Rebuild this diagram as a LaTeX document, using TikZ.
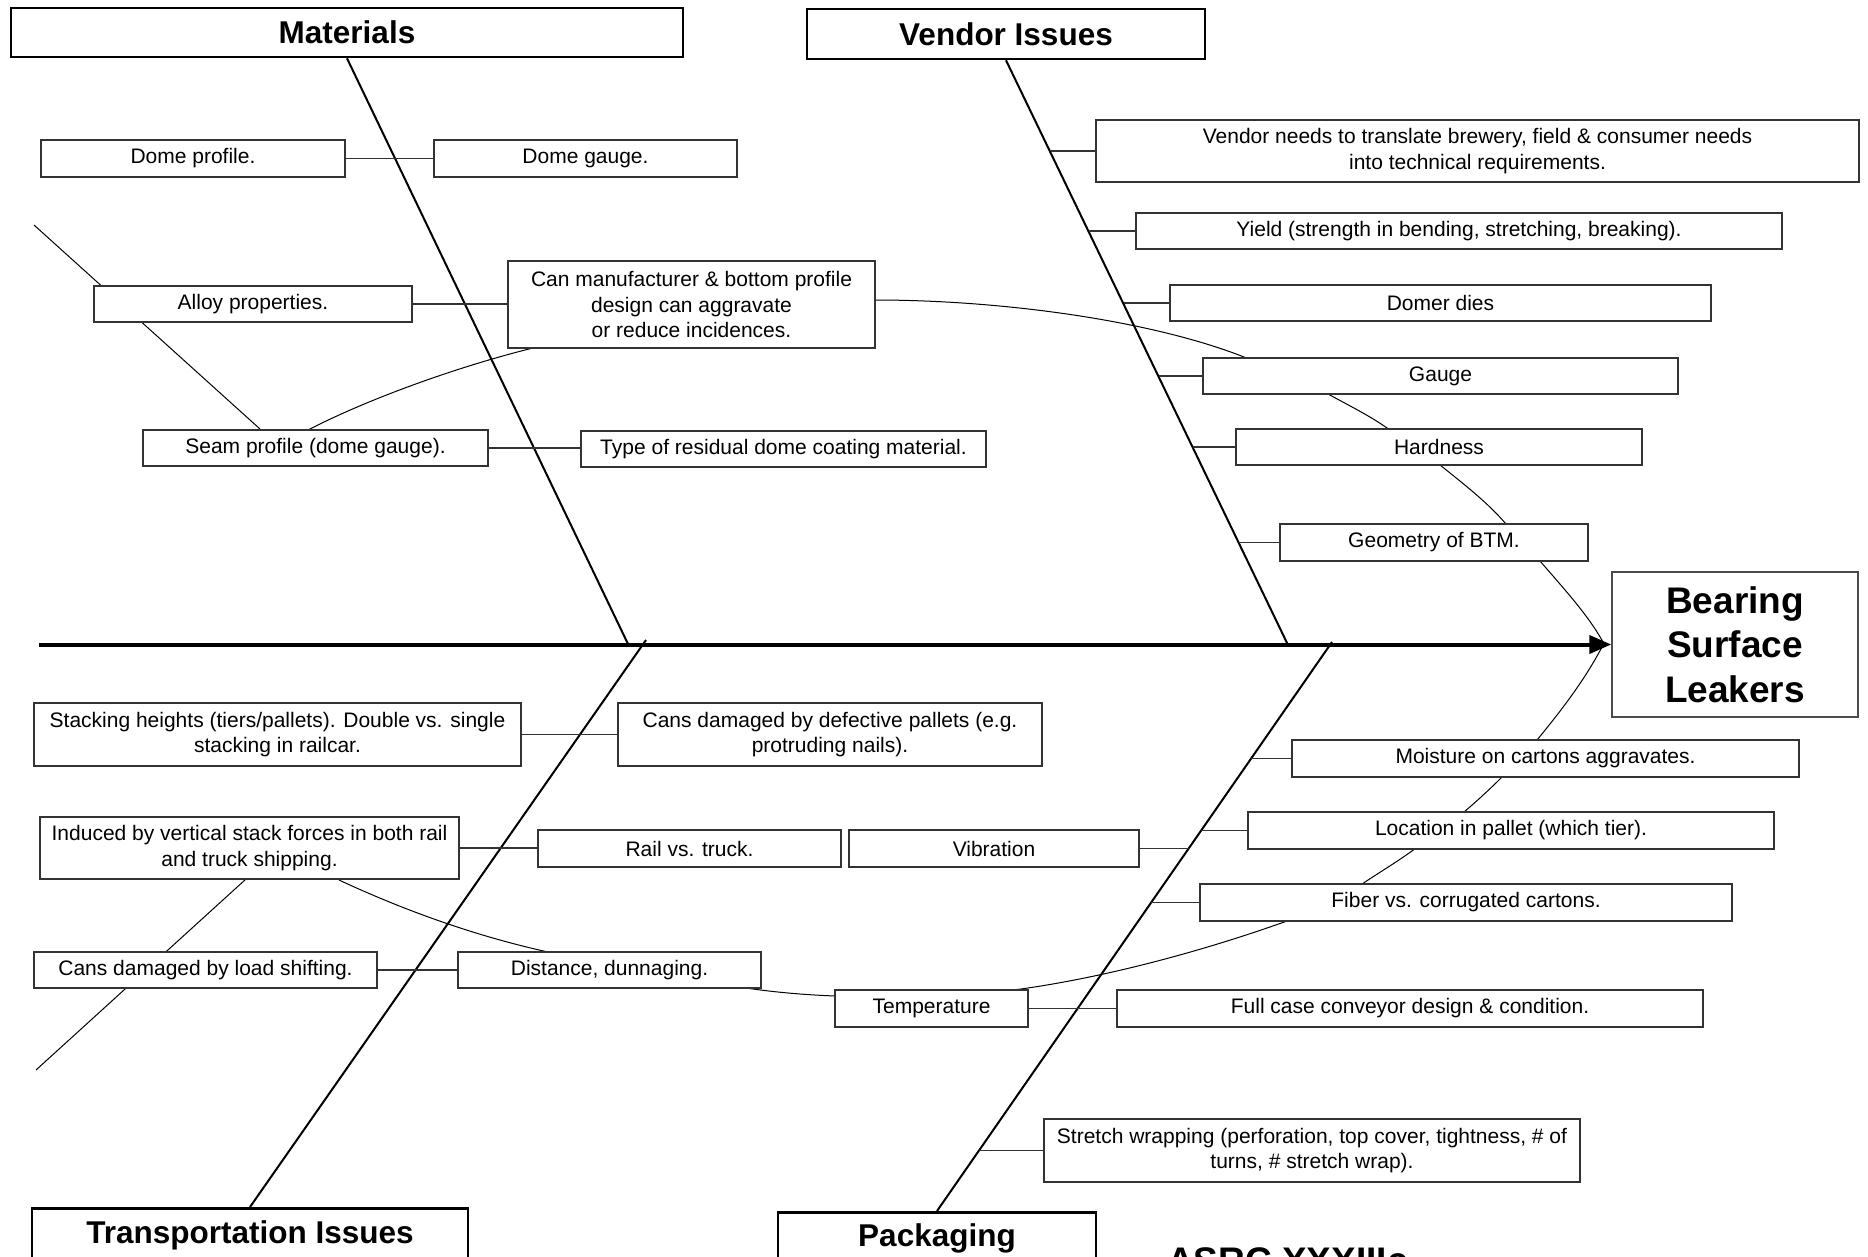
\documentclass[tikz,border=0pt]{standalone}
\usepackage{fontspec}
\setmainfont{Liberation Sans}
\usetikzlibrary{arrows.meta,backgrounds,calc}
\begin{document}
\begin{tikzpicture}[x=1pt,y=-1pt,
  box/.style={draw=black!80, line width=1.3pt, fill=white, align=center, inner sep=0pt, font=\fontsize{21}{25.5}\selectfont},
  head/.style={draw=black, line width=2.6pt, fill=white, align=center, inner sep=0pt, font=\fontsize{31.5}{38}\selectfont\bfseries},
  conn/.style={draw=black!80, line width=1.3pt},
  bone/.style={draw=black, line width=2pt},
  link/.style={draw=black, line width=1pt}]
\useasboundingbox (0,0) rectangle (1868,1256);
\clip (0,0) rectangle (1868,1256);

% ---------- background: white page, cause curves ----------
\begin{pgfonlayer}{background}
\fill[white] (0,0) rectangle (1868,1256);
% upper curve (pieces between boxes)
\draw[link] (308,430) .. controls (370,398) and (460,366) .. (533,348);
\draw[link] (533,348) .. controls (640,322) and (760,300) .. (875,300);
\draw[link] (875,300) .. controls (1000,300) and (1150,320) .. (1244,357);
\draw[link] (1244,357) .. controls (1280,372) and (1310,384) .. (1328,394);
\draw[link] (1328,394) .. controls (1350,406) and (1370,416) .. (1387,428);
\draw[link] (1387,428) .. controls (1405,440) and (1422,452) .. (1440,465);
\draw[link] (1440,465) .. controls (1465,485) and (1488,503) .. (1506,524);
\draw[link] (1506,524) .. controls (1518,536) and (1530,548) .. (1540,561);
\draw[link] (1540,561) .. controls (1565,590) and (1588,615) .. (1603,642);
% lower curve (pieces between boxes)
\draw[link] (339,880) .. controls (410,913) and (480,937) .. (548,952);
\draw[link] (548,952) .. controls (620,968) and (690,980) .. (746,988);
\draw[link] (746,988) .. controls (780,993) and (810,995) .. (835,996);
\draw[link] (835,996) .. controls (900,999) and (960,996) .. (1021,989);
\draw[link] (1021,989) .. controls (1120,975) and (1220,945) .. (1287,921);
\draw[link] (1287,921) .. controls (1315,910) and (1340,898) .. (1362,884);
\draw[link] (1362,884) .. controls (1380,872) and (1400,860) .. (1416,848);
\draw[link] (1416,848) .. controls (1434,836) and (1450,824) .. (1464,812);
\draw[link] (1464,812) .. controls (1478,800) and (1490,789) .. (1502,777);
\draw[link] (1502,777) .. controls (1515,765) and (1527,752) .. (1537,740);
\draw[link] (1537,740) .. controls (1560,712) and (1585,680) .. (1603,645);
\coordinate (la) at (34,225); \coordinate (lb) at (260,429);
\coordinate (lc) at (36,1070); \coordinate (ld) at (246,879);
\draw[link] (la) -- (lb);
\draw[link] (lc) -- (ld);
\end{pgfonlayer}

% ---------- heads ----------
\node[head, minimum width=672pt, minimum height=49pt] (mat) at (347,32.5) {Materials};
\node[head, minimum width=398pt, minimum height=50pt] (ven) at (1006,34) {Vendor Issues};
\node[head, anchor=north, minimum width=436pt, text height=23pt, text depth=60pt, inner ysep=12pt] (tra) at (250,1207) {Transportation Issues};
\node[head, anchor=north, minimum width=318pt, text height=23pt, text depth=60pt, inner ysep=11pt] (pkg) at (937,1211) {Packaging};
\node[draw=black!70, line width=1.5pt, fill=white, minimum width=246pt, minimum height=145pt, align=center, inner sep=0pt, font=\fontsize{37}{44.6}\selectfont\bfseries] (bsl) at (1735,644.5) {Bearing\\Surface\\Leakers};
\node[anchor=base west, inner sep=0pt, font=\fontsize{37}{44}\selectfont\bfseries] (asrc) at (1167,1273) {ASRC XXXIIIc};

% ---------- materials ----------
\node[box, minimum width=304pt, minimum height=37pt] (dp) at (193,158.5) {Dome profile.};
\node[box, minimum width=303pt, minimum height=37pt] (dg) at (585.5,158.5) {Dome gauge.};
\node[box, minimum width=318pt, minimum height=36pt] (al) at (253,304) {Alloy properties.};
\node[box, minimum width=367pt, minimum height=87pt] (can) at (691.5,304.5) {Can manufacturer \& bottom profile\\design can aggravate\\or reduce incidences.};
\node[box, minimum width=345pt, minimum height=36pt] (sp) at (315.5,448) {Seam profile (dome gauge).};
\node[box, minimum width=405pt, minimum height=36pt] (ty) at (783.5,449) {Type of residual dome coating material.};

% ---------- vendor ----------
\node[box, minimum width=763pt, minimum height=62pt] (vn) at (1477.5,151) {Vendor needs to translate brewery, field \& consumer needs\\into technical requirements.};
\node[box, minimum width=646pt, minimum height=36pt] (yi) at (1459,231) {Yield (strength in bending, stretching, breaking).};
\node[box, minimum width=541pt, minimum height=36pt] (dd) at (1440.5,303) {Domer dies};
\node[box, minimum width=475pt, minimum height=36pt] (ga) at (1440.5,376) {Gauge};
\node[box, minimum width=406pt, minimum height=36pt] (ha) at (1439,447) {Hardness};
\node[box, minimum width=308pt, minimum height=37pt] (ge) at (1434,542.5) {Geometry of BTM.};

% ---------- transportation ----------
\node[box, minimum width=487pt, minimum height=63pt] (st) at (277.5,734.5) {Stacking heights (tiers/pallets). Double vs. single\\stacking in railcar.};
\node[box, minimum width=424pt, minimum height=63pt] (cd) at (830,734.5) {Cans damaged by defective pallets (e.g.\\protruding nails).};
\node[box, minimum width=419pt, minimum height=62pt] (ind) at (249.5,848) {Induced by vertical stack forces in both rail\\and truck shipping.};
\node[box, minimum width=303pt, minimum height=37pt] (rv) at (689.5,848.5) {Rail vs. truck.};
\node[box, minimum width=343pt, minimum height=36pt] (cl) at (205.5,970) {Cans damaged by load shifting.};
\node[box, minimum width=303pt, minimum height=36pt] (dn) at (609.5,970) {Distance, dunnaging.};

% ---------- packaging ----------
\node[box, minimum width=290pt, minimum height=37pt] (vi) at (994,848.5) {Vibration};
\node[box, minimum width=193pt, minimum height=37pt] (te) at (931.5,1008.5) {Temperature};
\node[box, minimum width=586pt, minimum height=37pt] (fc) at (1410,1008.5) {Full case conveyor design \& condition.};
\node[box, minimum width=507pt, minimum height=37pt] (mo) at (1545.5,758.5) {Moisture on cartons aggravates.};
\node[box, minimum width=526pt, minimum height=37pt] (lo) at (1511,830.5) {Location in pallet (which tier).};
\node[box, minimum width=532pt, minimum height=37pt] (fi) at (1466,902.5) {Fiber vs. corrugated cartons.};
\node[box, minimum width=536pt, minimum height=63pt] (sw) at (1312,1150.5) {Stretch wrapping (perforation, top cover, tightness, \# of\\turns, \# stretch wrap).};

% ---------- spine and bones ----------
\coordinate (tail) at (39,644.5);
\draw[line width=4pt, -{Triangle[length=22pt,width=18pt]}] (tail) -- (bsl.west);
\coordinate (mEnd) at (628,644);
\coordinate (vEnd) at (1288,645);
\coordinate (tStart) at (646,640);
\coordinate (pStart) at (1332,642);
\draw[bone] (mat.south) -- (mEnd);
\draw[bone] (ven.south) -- (vEnd);
\draw[bone] (tStart) -- (tra.north);
\draw[bone] (pStart) -- (pkg.north);

% ---------- connectors ----------
\draw[conn] (dp.east) -- (dg.west);
\draw[conn] (al.east) -- (al.east -| can.west);
\draw[conn] (sp.east) -- (sp.east -| ty.west);
\draw[conn] (st.east) -- (cd.west);
\draw[conn] (ind.east) -- (ind.east -| rv.west);
\draw[conn] (cl.east) -- (dn.west);
\draw[conn] (te.east) -- (fc.west);

\coordinate (v1) at (1050.7,151);
\coordinate (v2) at (1089.1,231);
\coordinate (v3) at (1123.7,303);
\coordinate (v4) at (1158.8,376);
\coordinate (v5) at (1192.9,447);
\coordinate (v6) at (1238.8,542.5);
\draw[conn] (v1) -- (vn.west);
\draw[conn] (v2) -- (yi.west);
\draw[conn] (v3) -- (dd.west);
\draw[conn] (v4) -- (ga.west);
\draw[conn] (v5) -- (ha.west);
\draw[conn] (v6) -- (ge.west);

\coordinate (p1) at (1251.1,758.5);
\coordinate (p2) at (1201.1,830.5);
\coordinate (p3) at (1188.6,848.5);
\coordinate (p4) at (1151.2,902.5);
\coordinate (p5) at (979.0,1150.5);
\draw[conn] (p1) -- (mo.west);
\draw[conn] (p2) -- (lo.west);
\draw[conn] (vi.east) -- (p3);
\draw[conn] (p4) -- (fi.west);
\draw[conn] (p5) -- (sw.west);
\end{tikzpicture}
\end{document}
